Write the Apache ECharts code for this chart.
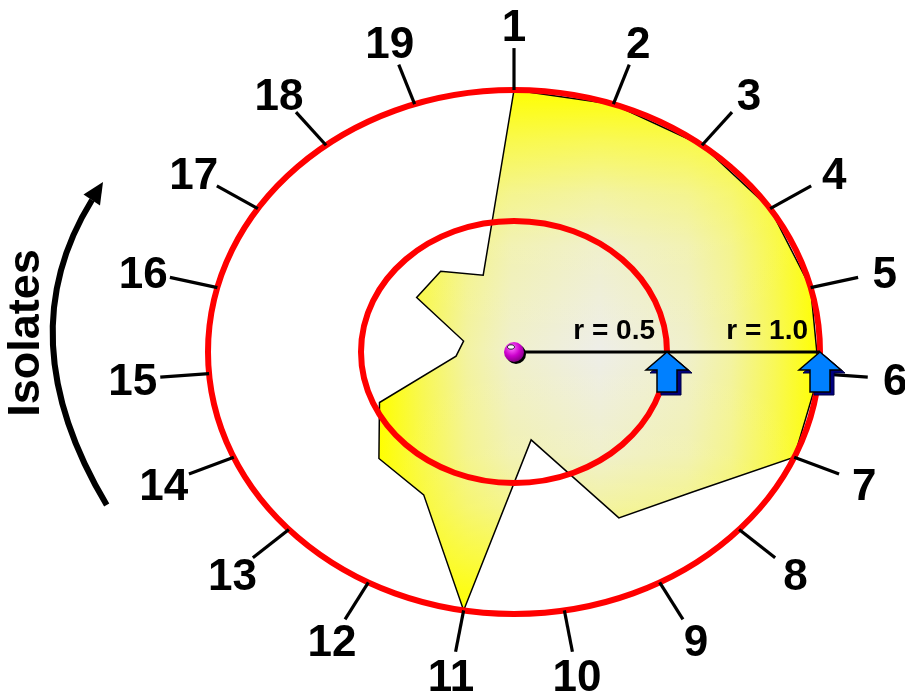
<!DOCTYPE html>
<html>
<head>
<meta charset="utf-8">
<script src="https://cdn.jsdelivr.net/npm/echarts@6/dist/echarts.min.js"></script>
<style>
html,body{margin:0;padding:0;background:#ffffff;}
#chart{width:905px;height:700px;}
</style>
</head>
<body>
<div id="chart"></div>
<script>
// ---- data ----
const isolates = ['1','2','3','4','5','6','7','8','9','10','11','12','13','14','15','16','17','18','19'];
const similarity = [1.0, 1.0, 1.0, 1.0, 1.0, 1.0, 1.0, 0.79, 0.72, 0.34, 1.0, 0.62, 0.60, 0.48, 0.19, 0.17, 0.38, 0.39, 0.31];
const ringRadii = [0.5, 1.0];
const ringLabels = ['r = 0.5', 'r = 1.0'];
const axisTitle = 'Isolates';

// ---- geometry helpers (ellipse units -> data coords) ----
const TICK_IN = 1.0, TICK_OUT = 1.16, LABEL_R = 1.25;
function polar(r, i) {
  const a = i * 2 * Math.PI / isolates.length;
  return [r * Math.sin(a), r * Math.cos(a)];
}
const FONT = '"Liberation Sans", Arial, sans-serif';

const hGrad = {type:'linear', x:0, y:0, x2:1, y2:0, colorStops:[
  {offset:0, color:'#FFFF00'}, {offset:0.1, color:'#F8F858'}, {offset:0.2, color:'#F3F3A2'},
  {offset:0.3, color:'#F0F0CC'}, {offset:0.5, color:'#EEEEE8'}, {offset:0.7, color:'#F0F0CC'},
  {offset:0.8, color:'#F3F3A2'}, {offset:0.9, color:'#F8F858'}, {offset:1, color:'#FFFF00'}]};
const vGrad = {type:'linear', x:0, y:0, x2:0, y2:1, colorStops:[
  {offset:0, color:'rgba(255,255,0,1)'}, {offset:0.1, color:'rgba(255,255,0,0.62)'},
  {offset:0.2, color:'rgba(255,255,0,0.3)'}, {offset:0.3, color:'rgba(255,255,0,0.12)'},
  {offset:0.5, color:'rgba(255,255,0,0)'}, {offset:0.7, color:'rgba(255,255,0,0.12)'},
  {offset:0.8, color:'rgba(255,255,0,0.3)'}, {offset:0.9, color:'rgba(255,255,0,0.62)'},
  {offset:1, color:'rgba(255,255,0,1)'}]};

function arrowPts(tx, ty, dx, dy) {
  return [[0,0],[21,18],[10,18],[10,40],[-10,40],[-10,18],[-21,18]].map(p => [tx + p[0] + dx, ty + p[1] + dy]);
}

function renderAll(params, api) {
  const children = [];
  const pts = similarity.map((v, i) => api.coord(polar(v, i)));
  // profile polygon: two gradient layers
  children.push({type:'polygon', shape:{points:pts}, style:{fill:hGrad, stroke:null}});
  children.push({type:'polygon', shape:{points:pts}, style:{fill:vGrad, stroke:'#000', lineWidth:1.5, lineJoin:'miter'}});
  // rings
  const c = api.coord([0, 0]);
  ringRadii.forEach(r => {
    const s = api.size([r, r]);
    children.push({type:'ellipse', shape:{cx:c[0], cy:c[1], rx:s[0], ry:s[1]}, style:{fill:null, stroke:'#FF0000', lineWidth:6}});
  });
  // ticks + labels
  isolates.forEach((lab, i) => {
    const p1 = api.coord(polar(TICK_IN, i));
    const p2 = api.coord(polar(TICK_OUT, i));
    children.push({type:'line', shape:{x1:p1[0], y1:p1[1], x2:p2[0], y2:p2[1]}, style:{stroke:'#000', lineWidth:3.2}});
    const pl = api.coord(polar(LABEL_R, i));
    children.push({type:'text', x:pl[0], y:pl[1] + 4, style:{text:lab, fill:'#000', fontSize:44, fontWeight:'bold', fontFamily:FONT, align:'center', verticalAlign:'middle'}});
  });
  // radius line
  const pEnd = api.coord([ringRadii[ringRadii.length - 1], 0]);
  children.push({type:'line', shape:{x1:c[0], y1:c[1], x2:pEnd[0], y2:pEnd[1]}, style:{stroke:'#000', lineWidth:3}});
  // ring markers
  ringRadii.forEach((r, k) => {
    const p = api.coord([r, 0]);
    children.push({type:'text', x:p[0] - 12, y:p[1] - 7, style:{text:ringLabels[k], fill:'#000', fontSize:28, fontWeight:'bold', fontFamily:FONT, align:'right', verticalAlign:'bottom'}});
    children.push({type:'polygon', shape:{points:arrowPts(p[0], p[1], 4, 3)}, style:{fill:'#000080', stroke:'#000040', lineWidth:1}});
    children.push({type:'polygon', shape:{points:arrowPts(p[0], p[1], 0, 0)}, style:{fill:'#0080FF', stroke:'#000', lineWidth:1.5}});
  });
  // center dot
  children.push({type:'circle', shape:{cx:c[0] + 2, cy:c[1] + 2, r:10}, style:{fill:'#000'}});
  children.push({type:'circle', shape:{cx:c[0], cy:c[1], r:10}, style:{fill:{type:'radial', x:0.4, y:0.3, r:0.8, colorStops:[
    {offset:0, color:'#FF70FF'}, {offset:0.5, color:'#CC00CC'}, {offset:1, color:'#700070'}]}}});
  children.push({type:'ellipse', shape:{cx:c[0] - 3, cy:c[1] - 5, rx:3.5, ry:2.2}, style:{fill:'#fff', stroke:'#222', lineWidth:1}});
  return {type:'group', children};
}

const chart = echarts.init(document.getElementById('chart'), null, {renderer:'canvas'});
chart.setOption({
  animation: false,
  backgroundColor: '#ffffff',
  grid: {left:208, top:90, width:612, height:524},
  xAxis: {type:'value', min:-1, max:1, show:false},
  yAxis: {type:'value', min:-1, max:1, show:false},
  graphic: [
    {type:'bezierCurve', shape:{x1:106.7, y1:505, x2:92, y2:200, cpx1:6.6, cpy1:337.5}, style:{stroke:'#000', lineWidth:6, fill:null}},
    {type:'polygon', shape:{points:[[103,182],[83.5,194.5],[100,205.5]]}, style:{fill:'#000'}},
    {type:'text', x:27, y:333, rotation:Math.PI/2, style:{text:axisTitle, fill:'#000', fontSize:45, fontWeight:'bold', fontFamily:FONT, align:'center', verticalAlign:'middle'}}
  ],
  series: [{
    type:'custom',
    coordinateSystem:'cartesian2d',
    clip:false,
    silent:true,
    data:[[0,0]],
    renderItem: renderAll
  }]
});
</script>
</body>
</html>
